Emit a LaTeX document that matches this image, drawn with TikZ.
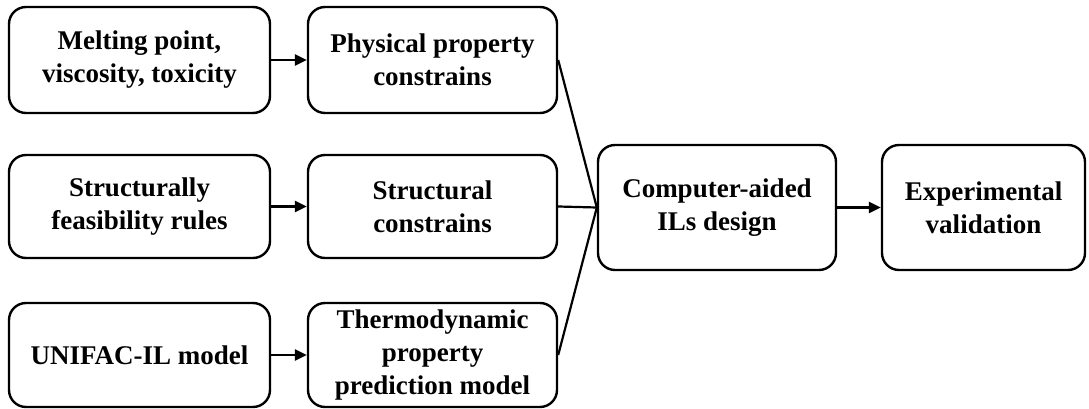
\documentclass[tikz,border=0pt]{standalone}
\usepackage{fontspec}
\setmainfont{Liberation Serif}
\usetikzlibrary{arrows.meta}

\begin{document}
\begin{tikzpicture}[x=1pt,y=-1pt,
	box/.style={draw=black,line width=2.4pt,rounded corners=17pt,inner sep=0pt,
		align=center,font=\bfseries\fontsize{27}{33}\selectfont},
	arr/.style={line width=2.4pt,-{Triangle[length=12pt,width=11pt]}},
	link/.style={line width=2.2pt}]
	\useasboundingbox (0,0) rectangle (1089,409);
	% left column
	\node[box,minimum width=261pt,minimum height=106pt] (melt) at (139.5,60) {Melting point,\\viscosity, toxicity};
	\node[box,minimum width=261pt,minimum height=103pt] (rule) at (139.5,206.5) {Structurally\\feasibility rules};
	\node[box,minimum width=261pt,minimum height=104pt] (unif) at (139.5,355) {UNIFAC-IL model};
	% constraint column
	\node[box,minimum width=249pt,minimum height=106pt] (phys) at (432.5,60) {Physical property\\constrains};
	\node[box,minimum width=249pt,minimum height=103pt] (stru) at (432.5,206.5) {Structural\\constrains};
	\node[box,minimum width=249pt,minimum height=104pt] (thermo) at (432.5,355) {Thermodynamic\\property\\prediction model};
	% right part
	\node[box,minimum width=238pt,minimum height=125pt] (cad) at (717,207.5) {Computer-aided\\ILs design};
	\node[box,minimum width=203pt,minimum height=125pt] (expv) at (983.5,207.5) {Experimental\\validation};
	% connectors
	\draw[arr] (melt) -- (phys);
	\draw[arr] (rule) -- (stru);
	\draw[arr] (unif) -- (thermo);
	\draw[link] (phys.east) -- (cad.west);
	\draw[link] (stru.east) -- (cad.west);
	\draw[link] (thermo.east) -- (cad.west);
	\draw[arr] (cad) -- (expv);
\end{tikzpicture}
\end{document}
